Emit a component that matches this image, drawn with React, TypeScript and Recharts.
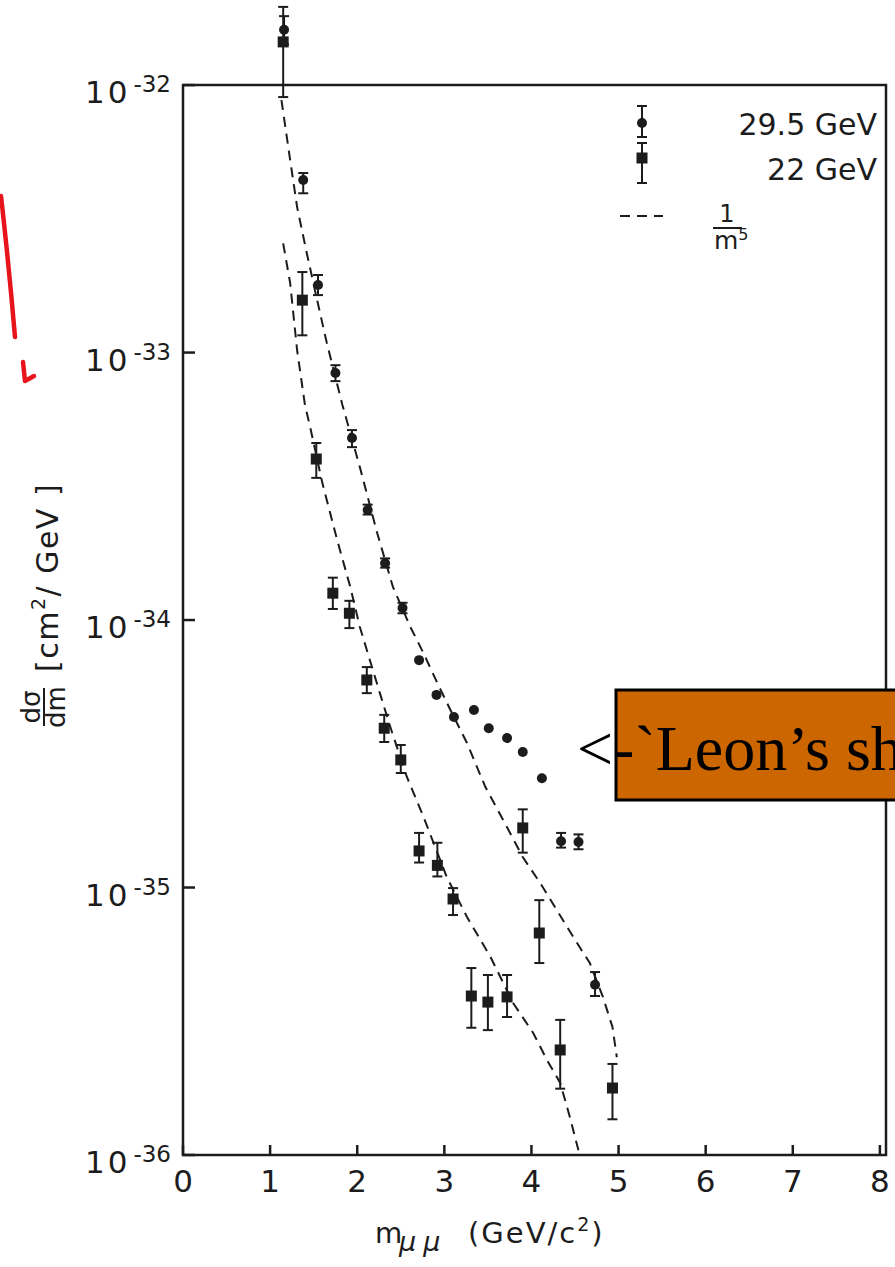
import React from 'react';
import { ErrorBar, ReferenceArea, Scatter, ScatterChart, XAxis, YAxis } from 'recharts';

const xTicks = [0, 1, 2, 3, 4, 5, 6, 7, 8];
const yTicks = [1e-36, 1e-35, 1e-34, 1e-33, 1e-32];

// 29.5 GeV (dots)
const mass295 = [1.16, 1.38, 1.55, 1.75, 1.94, 2.12, 2.32, 2.52, 2.71, 2.91, 3.11, 3.34, 3.51, 3.72, 3.9, 4.12, 4.34, 4.54, 4.73];
const sigma295 = [1.61e-32, 4.42e-33, 1.79e-33, 8.38e-34, 4.79e-34, 2.58e-34, 1.63e-34, 1.11e-34, 7.08e-35, 5.25e-35, 4.34e-35, 4.61e-35, 3.94e-35, 3.62e-35, 3.21e-35, 2.56e-35, 1.49e-35, 1.48e-35, 4.33e-36];
const sigma295Lo = [1.42e-32, 3.94e-33, 1.64e-33, 7.82e-34, 4.43e-34, 2.48e-34, 1.57e-34, 1.06e-34, null, null, null, null, null, null, null, null, 1.41e-35, 1.39e-35, 3.93e-36];
const sigma295Hi = [1.81e-32, 4.69e-33, 1.95e-33, 8.97e-34, 5.13e-34, 2.7e-34, 1.7e-34, 1.16e-34, null, null, null, null, null, null, null, null, 1.6e-35, 1.58e-35, 4.83e-36];

// 22 GeV (squares)
const mass22 = [1.15, 1.37, 1.53, 1.72, 1.91, 2.11, 2.31, 2.5, 2.71, 2.92, 3.1, 3.31, 3.5, 3.72, 3.9, 4.09, 4.33, 4.93];
const sigma22 = [1.45e-32, 1.57e-33, 4.0e-34, 1.26e-34, 1.06e-34, 5.97e-35, 3.94e-35, 3.0e-35, 1.37e-35, 1.21e-35, 9.06e-36, 3.93e-36, 3.73e-36, 3.9e-36, 1.67e-35, 6.76e-36, 2.47e-36, 1.78e-36];
const sigma22Lo = [9.02e-33, 1.16e-33, 3.4e-34, 1.1e-34, 9.33e-35, 5.33e-35, 3.5e-35, 2.68e-35, 1.24e-35, 1.1e-35, 7.89e-36, 2.99e-36, 2.93e-36, 3.28e-36, 1.35e-35, 5.22e-36, 1.77e-36, 1.36e-36];
const sigma22Hi = [1.96e-32, 2.0e-33, 4.59e-34, 1.44e-34, 1.18e-34, 6.67e-35, 4.42e-35, 3.41e-35, 1.6e-35, 1.47e-35, 9.95e-36, 5.0e-36, 4.71e-36, 4.71e-36, 1.96e-35, 8.97e-36, 3.2e-36, 2.19e-36];

// 1/m^5 curves (dashed)
const curveUpperM = [1.13, 1.23, 1.31, 1.42, 1.54, 1.65, 1.83, 2.03, 2.23, 2.41, 2.61, 2.76, 2.92, 3.07, 3.26, 3.47, 3.72, 3.9, 4.1, 4.29, 4.48, 4.67, 4.82, 4.93, 4.98];
const curveUpperS = [8.79e-33, 5.25e-33, 3.5e-33, 2.36e-33, 1.57e-33, 1.09e-33, 6.37e-34, 3.73e-34, 2.11e-34, 1.33e-34, 9.42e-35, 7.53e-35, 5.81e-35, 4.61e-35, 3.47e-35, 2.38e-35, 1.68e-35, 1.3e-35, 1.04e-35, 8.24e-36, 6.53e-36, 5.22e-36, 3.9e-36, 3.01e-36, 2.32e-36];
const curveLowerM = [1.15, 1.23, 1.31, 1.4, 1.46, 1.6, 1.77, 1.92, 2.03, 2.11, 2.26, 2.38, 2.57, 2.76, 3.03, 3.26, 3.53, 3.79, 4.02, 4.18, 4.33, 4.44, 4.54, 4.56];
const curveLowerS = [2.56e-33, 1.82e-33, 1.02e-33, 6.37e-34, 5.26e-34, 3.25e-34, 1.99e-34, 1.33e-34, 9.42e-35, 7.73e-35, 5.33e-35, 3.98e-35, 2.59e-35, 1.84e-35, 1.09e-35, 7.76e-36, 5.5e-36, 3.7e-36, 2.86e-36, 2.26e-36, 1.86e-36, 1.39e-36, 1.04e-36, 1.0e-36];

const INK = '#1c1c1c';
const FONT = '"DejaVu Sans", sans-serif';
const yTop = 2.08e-32;

function points(m: number[], s: number[], lo?: (number | null)[], hi?: (number | null)[]) {
  return m.map((x, i) => {
    const l = lo ? lo[i] : null;
    const h = hi ? hi[i] : null;
    return { x, y: s[i], err: l != null && h != null ? [s[i] - l, h - s[i]] : null };
  });
}

const data295 = points(mass295, sigma295, sigma295Lo, sigma295Hi);
const data22 = points(mass22, sigma22, sigma22Lo, sigma22Hi);
const upper = points(curveUpperM, curveUpperS);
const lower = points(curveLowerM, curveLowerS);

function XTick({ x, y, payload }: any) {
  return (
    <g>
      <line x1={x} y1={y} x2={x} y2={y - 10} stroke={INK} strokeWidth={2.5} />
      <text x={x} y={y + 37} textAnchor="middle" fontSize={31} fontFamily={FONT} fill={INK}>
        {payload.value}
      </text>
    </g>
  );
}

function YTick({ x, y, payload }: any) {
  const exp = Math.round(Math.log10(payload.value));
  return (
    <g>
      <line x1={x} y1={y} x2={x + 12} y2={y} stroke={INK} strokeWidth={2.5} />
      <text x={x - 12} y={y + 18} textAnchor="end" fontFamily={FONT} fill={INK}>
        <tspan fontSize={31} letterSpacing={3}>10</tspan>
        <tspan fontSize={23} dx={3} dy={-11}>{String(exp)}</tspan>
      </text>
    </g>
  );
}

const dot = (p: any) => <circle cx={p.cx} cy={p.cy} r={5} fill={INK} />;
const square = (p: any) => <rect x={p.cx - 5.5} y={p.cy - 5.5} width={11} height={11} fill={INK} />;
const none = () => <g />;

export default function App() {
  return (
    <div style={{ position: 'absolute', left: 0, top: 0, width: 895, height: 1267, overflow: 'hidden', background: '#fff' }}>
      <ScatterChart width={895} height={1267} margin={{ top: 0, right: 9, bottom: 52, left: 33 }}>
        <XAxis
          type="number"
          dataKey="x"
          domain={[0, 8.07]}
          ticks={xTicks}
          interval={0}
          height={60}
          axisLine={false}
          tickLine={false}
          tickSize={0}
          tickMargin={0}
          tick={<XTick />}
        />
        <YAxis
          type="number"
          dataKey="y"
          scale="log"
          domain={[1e-36, yTop]}
          ticks={yTicks}
          interval={0}
          width={150}
          axisLine={false}
          tickLine={false}
          tickSize={0}
          tickMargin={0}
          tick={<YTick />}
        />
        <ReferenceArea x1={0} x2={8.07} y1={1e-36} y2={1e-32} fill="none" stroke={INK} strokeWidth={2.5} ifOverflow="visible" />
        <Scatter
          data={upper}
          shape={none}
          line={{ stroke: INK, strokeWidth: 2, strokeDasharray: '10 7' }}
          lineType="joint"
          isAnimationActive={false}
        />
        <Scatter
          data={lower}
          shape={none}
          line={{ stroke: INK, strokeWidth: 2, strokeDasharray: '10 7' }}
          lineType="joint"
          isAnimationActive={false}
        />
        <Scatter data={data295} shape={dot} isAnimationActive={false}>
          <ErrorBar dataKey="err" direction="y" width={5} stroke={INK} strokeWidth={2} />
        </Scatter>
        <Scatter data={data22} shape={square} isAnimationActive={false}>
          <ErrorBar dataKey="err" direction="y" width={5} stroke={INK} strokeWidth={2} />
        </Scatter>
      </ScatterChart>

      <svg width={895} height={1267} style={{ position: 'absolute', left: 0, top: 0, pointerEvents: 'none' }}>
        {/* y axis title */}
        <g transform="translate(45,606) rotate(-90)" fontFamily={FONT} fill={INK}>
          <text x={-101} y={-5} textAnchor="middle" fontSize={26}>dσ</text>
          <line x1={-120} y1={-1} x2={-82} y2={-1} stroke={INK} strokeWidth={2} />
          <text x={-101} y={20} textAnchor="middle" fontSize={26}>dm</text>
          <text x={-66} y={13} fontSize={30} letterSpacing={1.5}>
            [cm<tspan fontSize={19} dy={-13}>2</tspan>
            <tspan dy={13}>/ GeV ]</tspan>
          </text>
        </g>

        {/* x axis title */}
        <g fontFamily={FONT} fill={INK}>
          <text x={375} y={1243} fontSize={28}>m</text>
          <text x={399} y={1251} fontSize={27} fontStyle="italic" letterSpacing={7}>μμ</text>
          <text x={468} y={1243} fontSize={29} letterSpacing={2}>
            (GeV/c<tspan fontSize={19} dy={-12}>2</tspan>
            <tspan dy={12}>)</tspan>
          </text>
        </g>

        {/* legend */}
        <g stroke={INK} strokeWidth={2}>
          <line x1={642} y1={106} x2={642} y2={137} />
          <line x1={637} y1={106} x2={647} y2={106} />
          <line x1={637} y1={137} x2={647} y2={137} />
          <line x1={642} y1={143} x2={642} y2={183} />
          <line x1={637} y1={143} x2={647} y2={143} />
          <line x1={637} y1={183} x2={647} y2={183} />
          <line x1={620} y1={216} x2={663} y2={216} strokeDasharray="10 7" />
          <line x1={713} y1={228} x2={742} y2={228} />
        </g>
        <circle cx={642} cy={123} r={5} fill={INK} />
        <rect x={636.5} y={152.5} width={11} height={11} fill={INK} />
        <g fontFamily={FONT} fill={INK}>
          <text x={877} y={135} textAnchor="end" fontSize={30}>29.5 GeV</text>
          <text x={877} y={180} textAnchor="end" fontSize={30}>22 GeV</text>
          <text x={727} y={222} textAnchor="middle" fontSize={24}>1</text>
          <text x={714} y={249} fontSize={25}>
            m<tspan fontSize={16} dy={-9}>5</tspan>
          </text>
        </g>

        {/* annotation */}
        <rect x={616} y={690} width={400} height={110} fill="#CC6600" stroke="#000" strokeWidth={3} />
        <text x={577} y={770} fontFamily='"Liberation Serif", serif' fontSize={64} fill="#000">
          {'<-`Leon\u2019s shoulder\u2019'}
        </text>

        {/* red pen mark */}
        <path d="M 1 196 C 6 240, 11 290, 15 337" stroke="#e8141c" strokeWidth={4.5} fill="none" strokeLinecap="round" />
        <path d="M 23 362 L 25 381 L 34 376" stroke="#e8141c" strokeWidth={4.5} fill="none" strokeLinecap="round" strokeLinejoin="round" />
      </svg>
    </div>
  );
}
